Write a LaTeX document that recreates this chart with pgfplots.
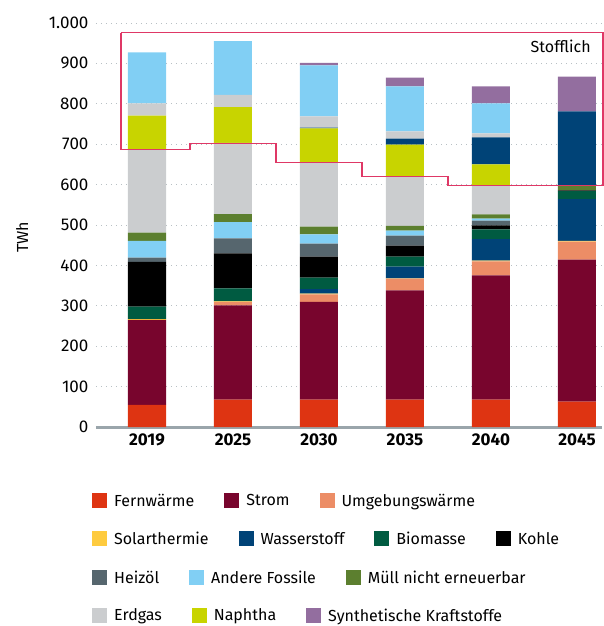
\documentclass[border=0pt]{standalone}
\usepackage{pgfplots}
\usepackage{pgfplotstable}
\pgfplotsset{compat=1.18}
\usepackage{fontspec}
\setmainfont{Fira Sans}
\definecolor{cFW}{HTML}{DE3412}
\definecolor{cST}{HTML}{78052D}
\definecolor{cUW}{HTML}{EC8D66}
\definecolor{cSO}{HTML}{FECB3F}
\definecolor{cWS}{HTML}{004377}
\definecolor{cBIO}{HTML}{005B41}
\definecolor{cKO}{HTML}{000000}
\definecolor{cHZ}{HTML}{56666E}
\definecolor{cAF}{HTML}{81CFF4}
\definecolor{cMU}{HTML}{5C7F2F}
\definecolor{cEG}{HTML}{CBCDCF}
\definecolor{cNA}{HTML}{C8D400}
\definecolor{cSY}{HTML}{936E9F}
\definecolor{cBOX}{HTML}{DF3866}
\definecolor{cAX}{HTML}{9AA5AB}

\pgfplotstableread{
x fw st uw so wse bio ko hz afe mu ege na wss egs afs sy
0 55 210 0 2 0 31 111 10 42 20 206 84 0 30 126 0
1 68 233 9 1 0 32 87 37 40 20 176 89 0 30 133 0
2 68 242 18 2 11 29 52 32 23 19 158 85 2 28 126 6
3 68 270 29 1 29 25 27 25 12 12 122 79 15 18 111 22
4 68 307 35 2 53 24 10 12 5 10 72 52 67 10 74 42
5 63 351 45 2 103 20 2 0 0 11 0 0 184 0 0 86
}\data

\pgfplotsset{
  base/.style={
    at={(0,0)}, anchor=south west,
    scale only axis, width=506pt, height=404pt,
    xmin=-0.593, xmax=5.291, ymin=0, ymax=1000,
  },
  leg/.style={
    base, hide axis, clip=false,
    legend columns=-1,
    legend image code/.code={\path[draw=none,fill=none] (0pt,0pt) -- (19pt,0pt);\fill[##1, draw=none] (0pt,-7.5pt) rectangle (15pt,7.5pt);},
    legend style={draw=none, fill=none, inner sep=0pt, anchor=west,
      font=\fontsize{16}{19}\selectfont,
      /tikz/every even column/.append style={column sep=27pt},
      nodes={inner sep=3pt}},
  },
}

\begin{document}
\begin{tikzpicture}
\path (-96pt,-199pt) rectangle (508pt,427pt);
\begin{axis}[base,
  ybar stacked, bar width=0.442,
  ytick={0,100,...,1000},
  xtick={0,1,2,3,4,5},
  xticklabels={2019,2025,2030,2035,2040,2045},
  ymajorgrids,
  grid style={cAX!70, line width=0.9pt, dash pattern=on 1pt off 4pt},
  major tick length=0pt,
  axis lines*=left,
  y axis line style={draw=none},
  x axis line style={draw=cAX, line width=3pt},
  yticklabel style={font=\fontsize{17}{20}\selectfont, xshift=-4pt,
    /pgf/number format/.cd, 1000 sep={.}, assume math mode=true},
  xticklabel style={font=\fontsize{17}{20}\selectfont\bfseries, yshift=-3pt,
    /pgf/number format/assume math mode=true},
  ylabel={TWh},
  ylabel style={font=\fontsize{16}{19}\selectfont, at={(axis description cs:-0.146,0.47)}, anchor=center},
  every axis plot/.append style={draw=none},
]
\addplot[fill=cFW] table[x=x,y=fw]{\data};
\addplot[fill=cST] table[x=x,y=st]{\data};
\addplot[fill=cUW] table[x=x,y=uw]{\data};
\addplot[fill=cSO] table[x=x,y=so]{\data};
\addplot[fill=cWS] table[x=x,y=wse]{\data};
\addplot[fill=cBIO] table[x=x,y=bio]{\data};
\addplot[fill=cKO] table[x=x,y=ko]{\data};
\addplot[fill=cHZ] table[x=x,y=hz]{\data};
\addplot[fill=cAF] table[x=x,y=afe]{\data};
\addplot[fill=cMU] table[x=x,y=mu]{\data};
\addplot[fill=cEG] table[x=x,y=ege]{\data};
\addplot[fill=cNA] table[x=x,y=na]{\data};
\addplot[fill=cWS] table[x=x,y=wss]{\data};
\addplot[fill=cEG] table[x=x,y=egs]{\data};
\addplot[fill=cAF] table[x=x,y=afs]{\data};
\addplot[fill=cSY] table[x=x,y=sy]{\data};
\end{axis}
% Stofflich box
\begin{axis}[base, hide axis, clip=false]
\addplot[draw=cBOX, line width=1.1pt, mark=none, sharp plot, line join=miter] coordinates {
(-0.302,976) (-0.302,687) (0.5,687) (0.5,702) (1.5,702) (1.5,654) (2.5,654) (2.5,621) (3.5,621) (3.5,598) (5.302,598) (5.302,976) (-0.302,976)};
\node[anchor=east, font=\fontsize{16}{19}\selectfont] at (axis cs:5.2,942) {Stofflich};
\end{axis}
% legend rows
\begin{axis}[leg, legend style={at={(axis description cs:-0.008,-0.183)}}]
\addlegendimage{fill=cFW}\addlegendentry{Fernwärme}
\addlegendimage{fill=cST}\addlegendentry{Strom}
\addlegendimage{fill=cUW}\addlegendentry{Umgebungswärme}
\end{axis}
\begin{axis}[leg, legend style={at={(axis description cs:-0.008,-0.277)}}]
\addlegendimage{fill=cSO}\addlegendentry{Solarthermie}
\addlegendimage{fill=cWS}\addlegendentry{Wasserstoff}
\addlegendimage{fill=cBIO}\addlegendentry{Biomasse}
\addlegendimage{fill=cKO}\addlegendentry{Kohle}
\end{axis}
\begin{axis}[leg, legend style={at={(axis description cs:-0.008,-0.373)}}]
\addlegendimage{fill=cHZ}\addlegendentry{Heizöl}
\addlegendimage{fill=cAF}\addlegendentry{Andere Fossile}
\addlegendimage{fill=cMU}\addlegendentry{Müll nicht erneuerbar}
\end{axis}
\begin{axis}[leg, legend style={at={(axis description cs:-0.008,-0.467)}}]
\addlegendimage{fill=cEG}\addlegendentry{Erdgas}
\addlegendimage{fill=cNA}\addlegendentry{Naphtha}
\addlegendimage{fill=cSY}\addlegendentry{Synthetische Kraftstoffe}
\end{axis}
\end{tikzpicture}
\end{document}
